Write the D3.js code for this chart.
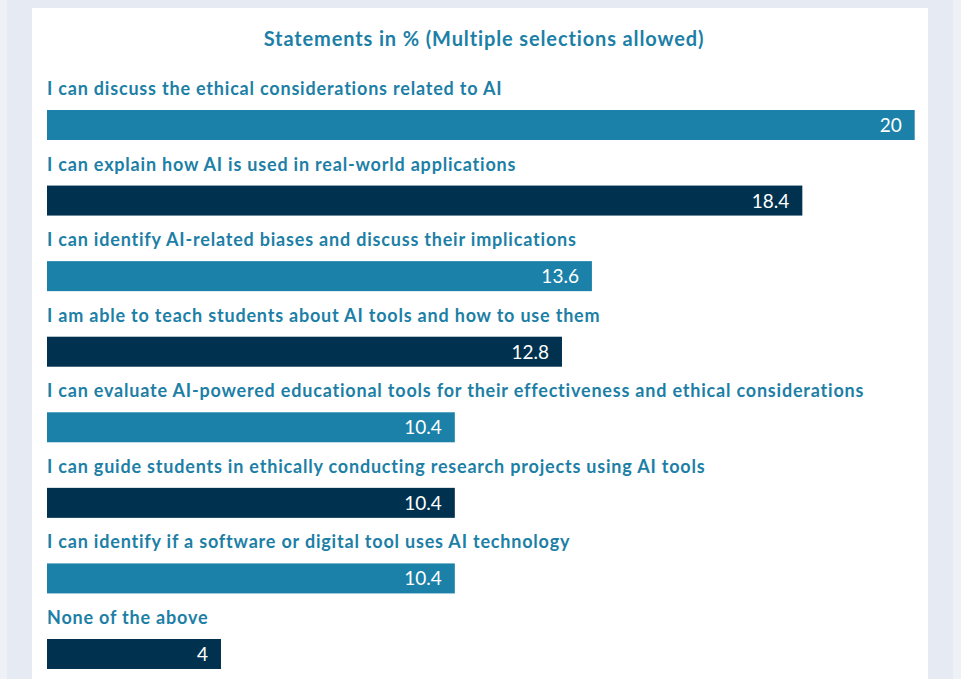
<!DOCTYPE html>
<html>
<head>
<meta charset="utf-8">
<script src="https://cdn.jsdelivr.net/npm/d3@7"></script>
<style>
  html, body { margin: 0; padding: 0; background: #e6eaf2; overflow: hidden; }
  svg { display: block; }
</style>
</head>
<body>
<svg id="chart" width="961" height="679"></svg>
<script>
var width = 961, height = 679;

var title = "Statements in % (Multiple selections allowed)";

var statements = [
  "I can discuss the ethical considerations related to AI",
  "I can explain how AI is used in real-world applications",
  "I can identify AI-related biases and discuss their implications",
  "I am able to teach students about AI tools and how to use them",
  "I can evaluate AI-powered educational tools for their effectiveness and ethical considerations",
  "I can guide students in ethically conducting research projects using AI tools",
  "I can identify if a software or digital tool uses AI technology",
  "None of the above"
];

// printed value labels
var shares = ["20", "18.4", "13.6", "12.8", "10.4", "10.4", "10.4", "4"];

// bar lengths (the source bars don't follow the labels exactly)
var barShares = [20, 17.41, 12.56, 11.87, 9.4, 9.4, 9.4, 4.01];

var barColors = ["#1b81a8", "#003250"];

function draw()
{
    var svg = d3.select("#chart");

    // edge strips + white panel
    svg.append("rect").attr("x", 0).attr("y", 0).attr("width", 7).attr("height", height).attr("fill", "#eef1f6");
    svg.append("rect").attr("x", 953).attr("y", 0).attr("width", 8).attr("height", height).attr("fill", "#eef1f6");
    svg.append("rect").attr("x", 32).attr("y", 8).attr("width", 896).attr("height", height).attr("fill", "#ffffff");

    var x = d3.scaleLinear().domain([0, 20]).range([47, 914.7]),
        y = d3.scaleBand().domain(d3.range(statements.length)).range([72, 72 + 8 * 75.57]);

    svg.append("text")
      .attr("x", 484)
      .attr("y", 46)
      .attr("text-anchor", "middle")
      .attr("fill", "#1d7fa6")
      .style("font-family", "Lato, 'Noto Sans', sans-serif")
      .style("font-weight", "bold")
      .style("font-size", "20px")
      .style("letter-spacing", "0.87px")
      .text(title);

    var rows = svg.selectAll("g.row")
      .data(statements)
      .enter().append("g")
      .attr("class", "row")
      .attr("transform", function(d, i) { return "translate(0," + y(i) + ")"; });

    rows.append("text")
      .attr("x", 47)
      .attr("y", 23)
      .attr("fill", "#1d7fa6")
      .style("font-family", "Lato, 'Noto Sans', sans-serif")
      .style("font-weight", "bold")
      .style("font-size", "18px")
      .style("letter-spacing", "0.8px")
      .text(function(d) { return d; });

    rows.append("rect")
      .attr("x", x(0))
      .attr("y", 38)
      .attr("height", 30)
      .attr("width", function(d, i) { return x(barShares[i]) - x(0); })
      .attr("fill", function(d, i) { return barColors[i % 2]; });

    rows.append("text")
      .attr("x", function(d, i) { return x(barShares[i]) - 13; })
      .attr("y", 60)
      .attr("text-anchor", "end")
      .attr("fill", "#ffffff")
      .style("font-family", "Lato, 'Noto Sans', sans-serif")
      .style("font-size", "19px")
      .text(function(d, i) { return shares[i]; });
}

draw();
</script>
</body>
</html>
